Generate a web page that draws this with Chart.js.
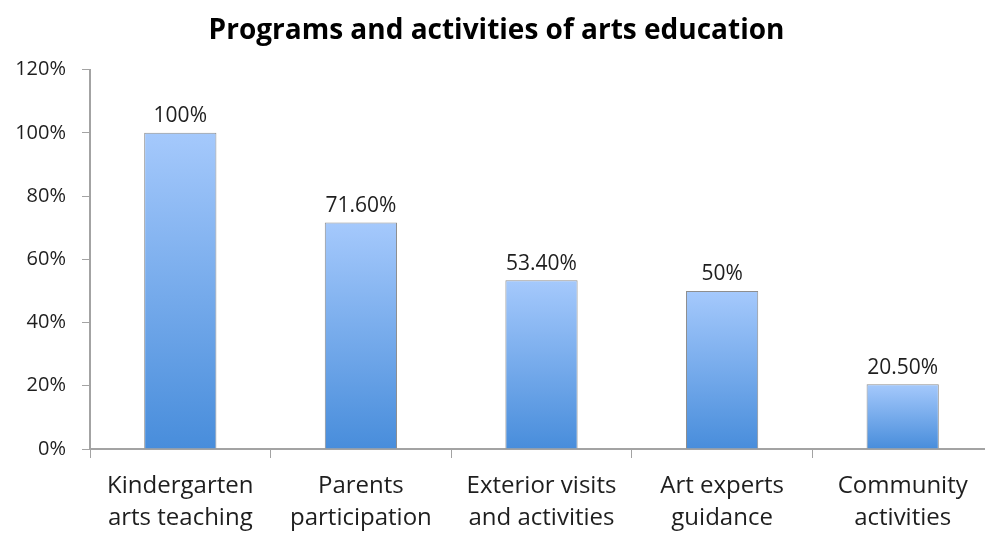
<!DOCTYPE html>
<html lang="en">
<head>
    <meta charset="UTF-8">
    <title>Programs and activities of arts education</title>
    <script src="https://cdn.jsdelivr.net/npm/chart.js@4.4.0/dist/chart.umd.min.js"></script>
    <style>
        * {
            margin: 0;
            padding: 0;
            box-sizing: border-box;
        }

        body {
            background-color: #ffffff;
            overflow: hidden;
        }

        .chart-container {
            width: 1008px;
            height: 533px;
        }
    </style>
</head>
<body>
    <div class="chart-container">
        <canvas id="artsChart" width="1008" height="533"></canvas>
    </div>

    <script>
        const categories = [
            ['Kindergarten', 'arts teaching'],
            ['Parents', 'participation'],
            ['Exterior visits', 'and activities'],
            ['Art experts', 'guidance'],
            ['Community', 'activities']
        ];
        const shares = [100, 71.6, 53.4, 50, 20.5];
        const yTicks = [0, 20, 40, 60, 80, 100, 120];

        const fontFamily = "'Open Sans', Lato, sans-serif";
        const axisColor = '#a3a3a3';

        const formatShare = (v) => Number.isInteger(v) ? v + '%' : v.toFixed(2) + '%';

        // each bar gets its own light-to-dark gradient, top to bottom
        const barGradient = (ctx) => {
            const chart = ctx.chart;
            const y = chart.scales.y;
            if (!chart.chartArea || !y || ctx.raw === undefined) return '#7aaeea';
            const top = y.getPixelForValue(ctx.raw);
            const bottom = y.getPixelForValue(0);
            const g = chart.ctx.createLinearGradient(0, top, 0, bottom);
            g.addColorStop(0, '#a5c9fc');
            g.addColorStop(1, '#488ddb');
            return g;
        };

        // value labels above the bars
        const valueLabels = {
            id: 'valueLabels',
            afterDatasetsDraw(chart) {
                const ctx = chart.ctx;
                const meta = chart.getDatasetMeta(0);
                ctx.save();
                ctx.font = '21px ' + fontFamily;
                ctx.fillStyle = '#1e1e1e';
                ctx.textAlign = 'center';
                ctx.textBaseline = 'bottom';
                meta.data.forEach((bar, i) => {
                    ctx.fillText(formatShare(shares[i]), bar.x, bar.y - 6);
                });
                ctx.restore();
            }
        };

        new Chart(document.getElementById('artsChart'), {
            type: 'bar',
            data: {
                labels: categories,
                datasets: [{
                    data: shares,
                    backgroundColor: barGradient,
                    borderColor: '#8e8e8e',
                    borderWidth: 1,
                    categoryPercentage: 0.8,
                    barPercentage: 0.5
                }]
            },
            options: {
                responsive: false,
                animation: false,
                layout: {
                    padding: { left: 0, right: 15, top: 0, bottom: 0 }
                },
                plugins: {
                    legend: { display: false },
                    tooltip: { enabled: false },
                    title: {
                        display: true,
                        text: 'Programs and activities of arts education',
                        color: '#000000',
                        font: { family: fontFamily, size: 28, weight: 'bold', lineHeight: 1.2 },
                        padding: { top: 14, bottom: 22 }
                    }
                },
                scales: {
                    x: {
                        afterFit: (axis) => {
                            axis.height = 84;
                        },
                        grid: {
                            drawOnChartArea: false,
                            color: axisColor,
                            tickLength: 9,
                            offset: true
                        },
                        border: { color: axisColor, width: 2 },
                        ticks: {
                            color: '#1e1e1e',
                            maxRotation: 0,
                            autoSkip: false,
                            padding: 12,
                            font: { family: fontFamily, size: 24, lineHeight: 1.33 }
                        }
                    },
                    y: {
                        min: 0,
                        max: 120,
                        afterBuildTicks: (axis) => {
                            axis.ticks = yTicks.map(v => ({ value: v }));
                        },
                        afterFit: (axis) => {
                            axis.width = 90;
                        },
                        grid: {
                            drawOnChartArea: false,
                            color: axisColor,
                            tickLength: 8
                        },
                        border: { color: axisColor, width: 2 },
                        ticks: {
                            color: '#1e1e1e',
                            padding: 16,
                            font: { family: fontFamily, size: 20 },
                            callback: (v) => v + '%'
                        }
                    }
                }
            },
            plugins: [valueLabels]
        });
    </script>
</body>
</html>
